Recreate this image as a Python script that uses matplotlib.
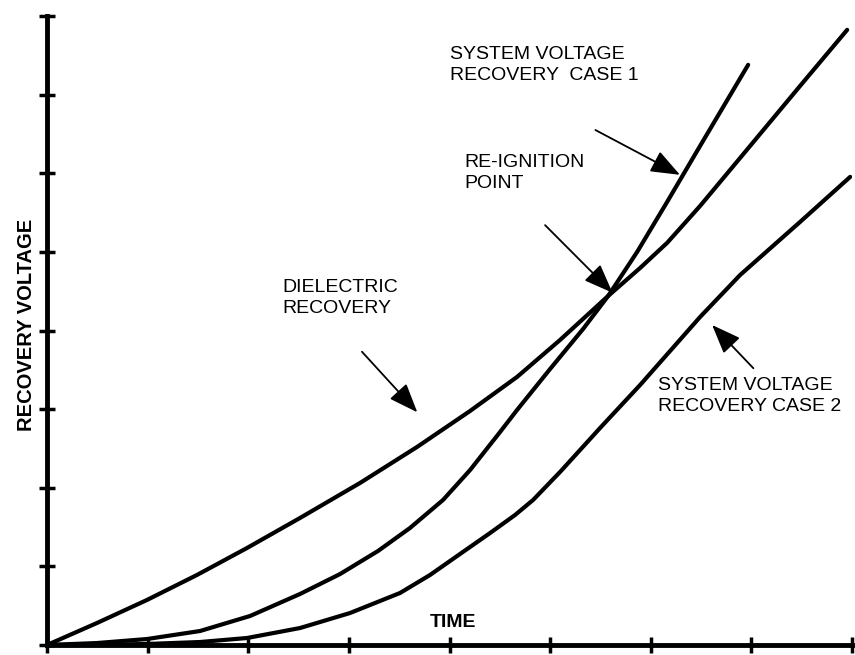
import matplotlib.pyplot as plt

# curves (x = time units, y = voltage units)
diel_x = [0.0, 0.497, 0.994, 1.491, 1.988, 2.515, 3.111, 3.678, 4.205, 4.672, 5.099,
          5.577, 5.895, 6.163, 6.491, 6.889, 7.485, 7.952]
diel_y = [0.0, 0.280, 0.573, 0.891, 1.234, 1.616, 2.061, 2.519, 2.977, 3.410, 3.880,
          4.440, 4.796, 5.115, 5.585, 6.196, 7.112, 7.824]

case1_x = [0.0, 0.497, 0.994, 1.521, 2.018, 2.515, 2.913, 3.290, 3.608, 3.936, 4.205,
           4.503, 4.672, 5.000, 5.328, 5.577, 5.865, 6.163, 6.491, 6.968]
case1_y = [0.0, 0.025, 0.076, 0.178, 0.369, 0.649, 0.903, 1.196, 1.489, 1.845, 2.226,
           2.710, 2.990, 3.511, 4.020, 4.440, 5.000, 5.636, 6.349, 7.379]

case2_x = [0.0, 0.527, 0.994, 1.521, 1.988, 2.515, 3.012, 3.509, 3.807, 4.105, 4.404,
           4.652, 4.831, 5.099, 5.497, 5.895, 6.491, 6.889, 7.485, 7.982]
case2_y = [0.0, 0.003, 0.013, 0.038, 0.089, 0.216, 0.407, 0.662, 0.891, 1.158, 1.425,
           1.654, 1.845, 2.201, 2.761, 3.308, 4.173, 4.707, 5.382, 5.954]

x_ticks = list(range(0, 9))
y_ticks = list(range(0, 9))

font = 'Liberation Sans'

fig = plt.figure(figsize=(8.55, 6.55), dpi=100)
ax = fig.add_axes([47 / 855, 10 / 655, 805 / 855, 629 / 655])

for xs, ys in [(diel_x, diel_y), (case1_x, case1_y), (case2_x, case2_y)]:
    ax.plot(xs, ys, color='black', lw=3.0, solid_capstyle='round', solid_joinstyle='round')

ax.set_xlim(0, 8)
ax.set_ylim(0, 8)
ax.set_xticks(x_ticks)
ax.set_yticks(y_ticks)
ax.tick_params(direction='inout', length=12, width=2.5, labelbottom=False, labelleft=False)
for s in ['top', 'right']:
    ax.spines[s].set_visible(False)
for s in ['left', 'bottom']:
    ax.spines[s].set_linewidth(3.5)
    ax.spines[s].set_clip_on(False)

arrow = dict(arrowstyle='-|>,head_length=0.9,head_width=0.35', mutation_scale=20,
             color='black', lw=1.3, shrinkA=0, shrinkB=0)

ax.text(4.0, 7.62, 'SYSTEM VOLTAGE\nRECOVERY  CASE 1', fontsize=14, family=font,
        va='top', ha='left', linespacing=1.35)
ax.annotate('', xy=(6.29, 5.98), xytext=(5.45, 6.55), arrowprops=arrow)

ax.text(4.15, 6.25, 'RE-IGNITION\nPOINT', fontsize=14, family=font,
        va='top', ha='left', linespacing=1.35)
ax.annotate('', xy=(5.62, 4.48), xytext=(4.95, 5.34), arrowprops=arrow)

ax.text(2.34, 4.66, 'DIELECTRIC\nRECOVERY', fontsize=14, family=font,
        va='top', ha='left', linespacing=1.35)
ax.annotate('', xy=(3.68, 2.96), xytext=(3.13, 3.73), arrowprops=arrow)

ax.text(6.07, 3.41, 'SYSTEM VOLTAGE\nRECOVERY CASE 2', fontsize=14, family=font,
        va='top', ha='left', linespacing=1.35)
ax.annotate('', xy=(6.61, 4.07), xytext=(7.02, 3.52), arrowprops=arrow)

ax.text(4.03, 0.28, 'TIME', fontsize=14, family=font, fontweight='bold',
        ha='center', va='center')
ax.text(-0.20, 4.07, 'RECOVERY VOLTAGE', fontsize=14.5, family=font, fontweight='bold',
        rotation=90, ha='center', va='center')

fig.savefig('out.png', dpi=100)
